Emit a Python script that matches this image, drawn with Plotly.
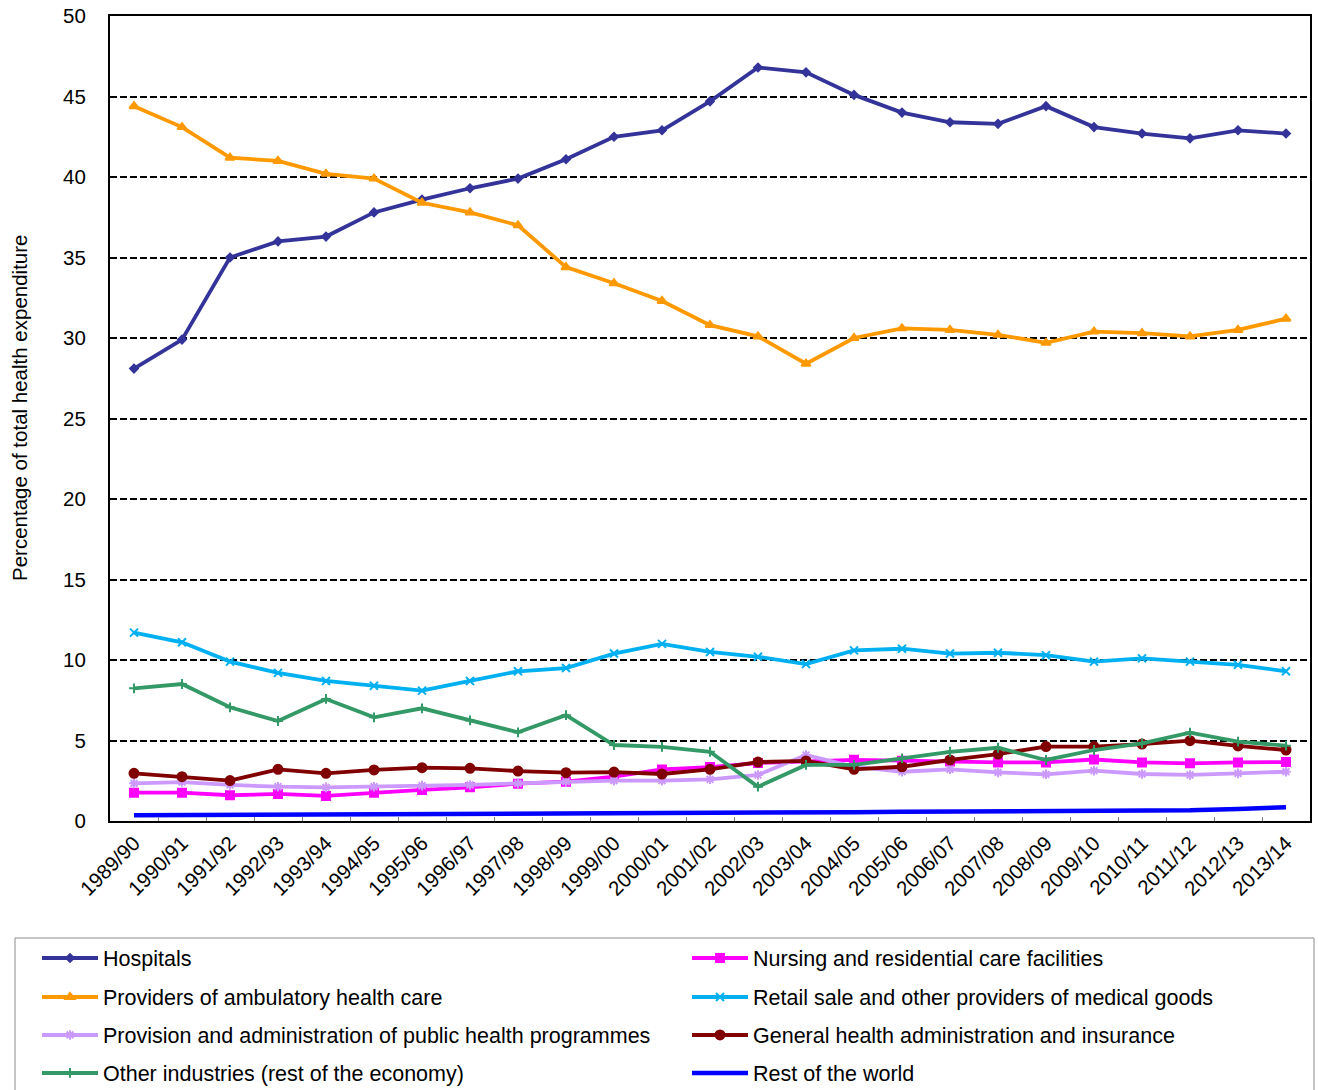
import plotly.graph_objects as go

years = ["1989/90", "1990/91", "1991/92", "1992/93", "1993/94", "1994/95", "1995/96",
         "1996/97", "1997/98", "1998/99", "1999/00", "2000/01", "2001/02", "2002/03",
         "2003/04", "2004/05", "2005/06", "2006/07", "2007/08", "2008/09", "2009/10",
         "2010/11", "2011/12", "2012/13", "2013/14"]

hospitals = [28.1, 29.9, 35.0, 36.0, 36.3, 37.8, 38.6, 39.3, 39.9, 41.1, 42.5, 42.9, 44.7,
             46.8, 46.5, 45.1, 44.0, 43.4, 43.3, 44.4, 43.1, 42.7, 42.4, 42.9, 42.7]
ambulatory = [44.4, 43.1, 41.2, 41.0, 40.2, 39.9, 38.4, 37.8, 37.0, 34.4, 33.4, 32.3, 30.8,
              30.1, 28.4, 30.0, 30.6, 30.5, 30.2, 29.7, 30.4, 30.3, 30.1, 30.5, 31.2]
nursing = [1.76, 1.76, 1.60, 1.68, 1.56, 1.76, 1.93, 2.09, 2.32, 2.44, 2.75, 3.2, 3.35,
           3.6, 3.7, 3.8, 3.75, 3.69, 3.64, 3.64, 3.82, 3.64, 3.58, 3.64, 3.66]
retail = [11.7, 11.1, 9.9, 9.2, 8.7, 8.4, 8.1, 8.7, 9.3, 9.5, 10.4, 11.0, 10.5, 10.2,
          9.75, 10.6, 10.7, 10.4, 10.45, 10.3, 9.9, 10.1, 9.9, 9.7, 9.3]
public_health = [2.34, 2.42, 2.24, 2.13, 2.09, 2.13, 2.20, 2.24, 2.34, 2.44, 2.51, 2.51,
                 2.59, 2.86, 4.1, 3.37, 3.06, 3.21, 3.02, 2.90, 3.13, 2.92, 2.86, 2.96, 3.06]
general_admin = [2.96, 2.75, 2.51, 3.21, 2.96, 3.17, 3.31, 3.27, 3.10, 3.0, 3.04, 2.92,
                 3.21, 3.66, 3.73, 3.21, 3.37, 3.79, 4.16, 4.62, 4.62, 4.78, 4.99, 4.66, 4.41]
other_industries = [8.24, 8.51, 7.06, 6.21, 7.58, 6.44, 7.0, 6.25, 5.51, 6.57, 4.72, 4.6,
                    4.3, 2.13, 3.48, 3.48, 3.89, 4.3, 4.55, 3.79, 4.41, 4.82, 5.49, 4.93, 4.68]
rest_of_world = [0.35, 0.36, 0.36, 0.37, 0.37, 0.38, 0.39, 0.40, 0.42, 0.44, 0.46, 0.48,
                 0.50, 0.52, 0.52, 0.55, 0.57, 0.58, 0.59, 0.60, 0.62, 0.64, 0.66, 0.75, 0.85]

y_title = "Percentage of total health expenditure"

FONT = "Liberation Sans, Arial, sans-serif"
W, H = 1318, 1090

# name, values, colour, marker symbol, marker size, legend column, legend row
series = [
    ("Hospitals", hospitals, "#333399", "diamond", 6, 0, 0),
    ("Nursing and residential care facilities", nursing, "#FF00FF", "square", 8, 1, 0),
    ("Providers of ambulatory health care", ambulatory, "#FF9900", "triangle-up", 8, 0, 1),
    ("Retail sale and other providers of medical goods", retail, "#00B0F0", "x-thin-open", 8, 1, 1),
    ("Provision and administration of public health programmes", public_health, "#CC99FF", "asterisk-open", 8, 0, 2),
    ("General health administration and insurance", general_admin, "#800000", "circle", 9, 1, 2),
    ("Other industries (rest of the economy)", other_industries, "#339966", "cross-thin-open", 7, 0, 3),
    ("Rest of the world", rest_of_world, "#0000FF", None, 0, 1, 3),
]

col_x = [37, 687]               # left edge of each legend column, px
row_y = [958, 997, 1035, 1073]  # centre of each legend row, px

fig = go.Figure()
layout_legends = {}
for i, (name, vals, color, symbol, size, col, row) in enumerate(series):
    key = "legend" if i == 0 else f"legend{i + 1}"
    if symbol is None:
        fig.add_trace(go.Scatter(x=years, y=vals, name=name, mode="lines",
                                 line=dict(color=color, width=4.5), legend=key))
    else:
        fig.add_trace(go.Scatter(
            x=years, y=vals, name=name, mode="lines+markers",
            line=dict(color=color, width=3.8),
            marker=dict(symbol=symbol, size=size, color=color,
                        line=dict(color=color, width=2)),
            legend=key))
    layout_legends[key] = dict(
        xref="container", yref="container",
        x=col_x[col] / W, y=1 - row_y[row] / H,
        xanchor="left", yanchor="middle", itemwidth=56,
        font=dict(family=FONT, size=21.5, color="#000000"),
        bgcolor="rgba(0,0,0,0)", borderwidth=0,
    )

fig.update_layout(
    width=W, height=H,
    margin=dict(l=110, r=8, t=16, b=269, autoexpand=False),
    paper_bgcolor="white", plot_bgcolor="white",
    font=dict(family=FONT, size=20, color="#000000"),
    showlegend=True,
    **layout_legends,
    shapes=[dict(type="rect", xref="paper", yref="paper",
                 x0=(15 - 110) / 1200, x1=(1314 - 110) / 1200,
                 y0=(821 - 1095) / 805, y1=(821 - 938) / 805,
                 line=dict(color="#8C8C8C", width=1), fillcolor="rgba(0,0,0,0)",
                 layer="below")],
    annotations=[dict(text=y_title, xref="paper", yref="paper",
                      x=(20 - 110) / 1200, y=(821 - 408) / 805,
                      xanchor="center", yanchor="middle", textangle=-90,
                      showarrow=False,
                      font=dict(family=FONT, size=20.5, color="#000000"))],
)

fig.update_xaxes(
    type="category", categoryorder="array", categoryarray=years,
    showline=True, linecolor="#000000", linewidth=2, mirror=True,
    showgrid=False, ticks="inside", ticklen=4, tickcolor="#808080", tickwidth=1,
    tickson="boundaries", tickangle=-45,
    tickfont=dict(family=FONT, size=20.5, color="#000000"),
    range=[-0.5, len(years) - 0.5],
)
fig.update_yaxes(
    range=[0, 50], dtick=5, tick0=0,
    showline=True, linecolor="#000000", linewidth=2, mirror=True,
    showgrid=True, gridcolor="#000000", gridwidth=2, griddash="7px,3px",
    ticks="", ticklabelstandoff=18,
    tickfont=dict(family=FONT, size=20.5, color="#000000"),
    zeroline=False,
)

fig.write_html("out.html")
